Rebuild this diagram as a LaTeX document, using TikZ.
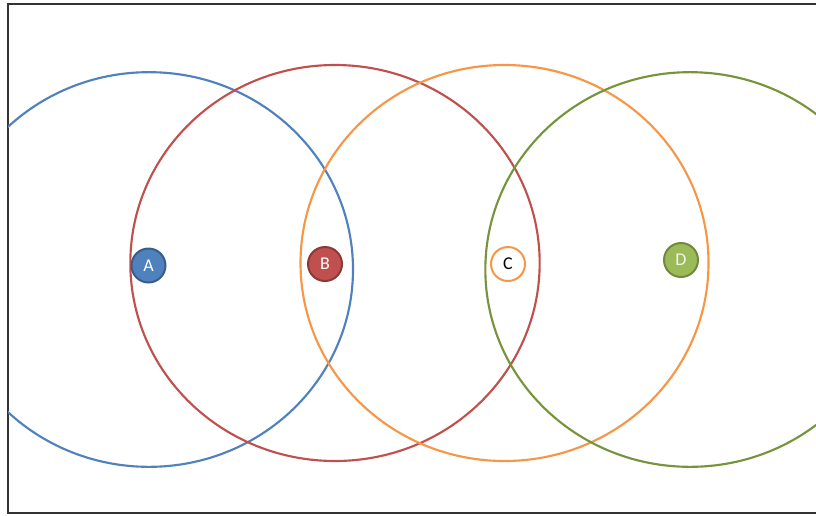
\documentclass[tikz,border=0pt]{standalone}
\usepackage{fontspec}
\setmainfont{Carlito}
\usetikzlibrary{positioning}
\definecolor{setblue}{HTML}{4F81BD}
\definecolor{setblueline}{HTML}{385D8A}
\definecolor{setred}{HTML}{C0504D}
\definecolor{setredline}{HTML}{8C3836}
\definecolor{setorange}{HTML}{F79646}
\definecolor{setgreen}{HTML}{9BBB59}
\definecolor{setgreenline}{HTML}{71893F}
\definecolor{setolive}{HTML}{77933C}
\definecolor{framegray}{HTML}{333333}

\begin{document}
\begin{tikzpicture}[
      x=0.75pt, y=-0.75pt,
      every node/.style={font=\fontsize{13.5}{15}\selectfont},
      reach/.style={line width=1.6pt, draw=#1},
      dot/.style={circle, draw=#1, line width=1.5pt, minimum size=25.5pt, inner sep=0pt},
    ]
    \useasboundingbox (0,0) rectangle (816,515);

    % frame
    \draw[framegray, line width=1.1pt] (816,4) -- (8,4) -- (8,513) -- (816,513);

    % ranges
    \begin{scope}
      \clip (8,4) rectangle (816,513);
      \draw[reach=setblue]   (149,269.5) ellipse [x radius=153pt, y radius=148pt];
      \draw[reach=setred]    (335,263)   ellipse [x radius=153.5pt, y radius=148.5pt];
      \draw[reach=setorange] (504.5,263) ellipse [x radius=153pt, y radius=148.5pt];
      \draw[reach=setolive]  (690,269.5) ellipse [x radius=153.5pt, y radius=148pt];
    \end{scope}

    % stations
    \node[dot=setblueline, fill=setblue, text=white] (a) at (148.5,265.5) {A};
    \node[dot=setredline, fill=setred, text=white] (b) at (325,264) {B};
    \node[dot=setorange, fill=white, text=black] (c) at (508,264) {C};
    \node[dot=setgreenline, fill=setgreen, text=white!85!setgreen] (d) at (681,260) {D};
  \end{tikzpicture}
\end{document}
